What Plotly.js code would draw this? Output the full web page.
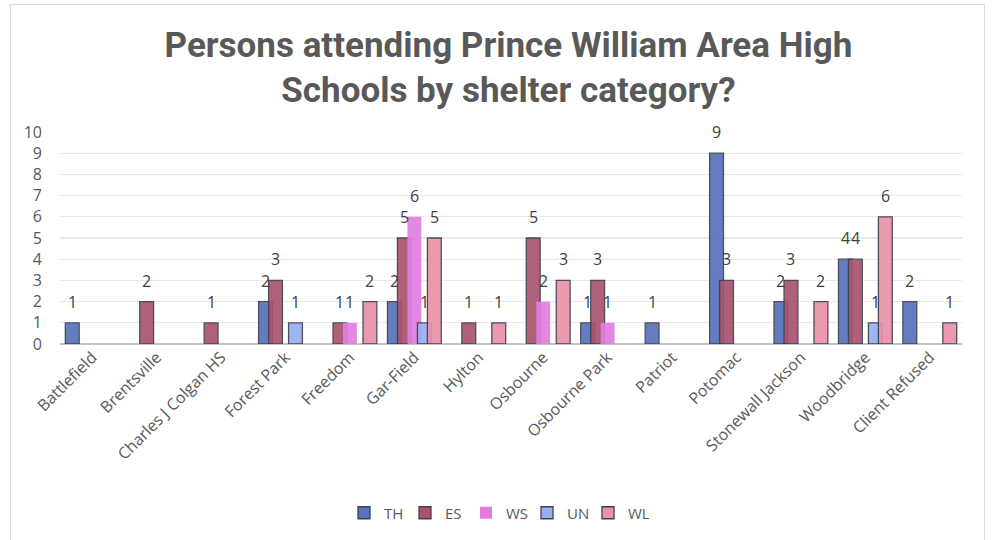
<!DOCTYPE html>
<html>
<head>
<meta charset="utf-8">
<script src="https://cdn.plot.ly/plotly-3.0.1.min.js"></script>
<style>
html,body{margin:0;padding:0;background:#fff;}
#frame{position:absolute;left:10px;top:4px;width:975px;height:560px;border:1.5px solid #D9D9D9;box-sizing:border-box;}
#chart{position:absolute;left:0;top:0;width:993px;height:540px;}
</style>
</head>
<body>
<div id="frame"></div>
<div id="chart"></div>
<script>
const categories = ["Battlefield","Brentsville","Charles J Colgan HS","Forest Park","Freedom","Gar-Field","Hylton","Osbourne","Osbourne Park","Patriot","Potomac","Stonewall Jackson","Woodbridge","Client Refused"];
const TH = [1,null,null,2,null,2,null,null,1,1,9,2,4,2];
const ES = [null,2,1,3,1,5,1,5,3,null,3,3,4,null];
const WS = [null,null,null,null,1,6,null,2,1,null,null,null,null,null];
const UN = [null,null,null,1,null,1,null,null,null,null,null,null,1,null];
const WL = [null,null,null,null,2,5,1,3,null,null,null,2,6,1];
const seriesNames = ["TH","ES","WS","UN","WL"];
const seriesData = [TH,ES,WS,UN,WL];
const colors = ["#5673BC","#A9536F","#E07EE0","#95AFF0","#E991A9"];
const outline = ["#404050","#404050","rgba(0,0,0,0)","#404050","#404050"];
const slot = 0.155, bw = 0.215;
const plotL = 60, plotR = 31, W = 993;
const catPx = (W - plotL - plotR) / categories.length;

const traces = seriesNames.map((n,i)=>({
  type:'bar', name:n, x:categories, y:seriesData[i],
  offset:(i-2)*slot - bw/2, width:bw,
  marker:{color:colors[i], opacity:0.92, line:{color:outline[i], width:i===2?0:1.3}},
  hoverinfo:'x+y+name'
}));

const annotations = [];
seriesData.forEach((arr,i)=>{
  arr.forEach((v,j)=>{
    if (v == null) return;
    annotations.push({x:categories[j], y:v, xref:'x', yref:'y', text:String(v), showarrow:false,
      xshift:(i-2)*slot*catPx, yshift:8, yanchor:'bottom', xanchor:'center',
      font:{family:'Open Sans', size:16, color:'#404040'}});
  });
});

const layout = {
  width:993, height:540,
  paper_bgcolor:'rgba(0,0,0,0)', plot_bgcolor:'rgba(0,0,0,0)',
  barmode:'overlay',
  margin:{l:plotL, r:plotR, t:132, b:196, autoexpand:false},
  title:{text:'Persons attending Prince William Area High<br>Schools by shelter category?',
    x:0.512, xanchor:'center', xref:'container', y:0.895, yanchor:'top', yref:'container',
    font:{family:'Roboto', size:35, color:'#595959', weight:'bold'}},
  xaxis:{type:'category', tickangle:-45, showgrid:false, zeroline:false, showline:false,
    tickfont:{family:'Open Sans', size:16, color:'#595959'}, ticks:'', automargin:false},
  yaxis:{range:[0,10], dtick:1, tick0:0, showgrid:true, gridcolor:'#E9E9E9', gridwidth:1.2,
    zeroline:true, zerolinecolor:'#C4C4C4', zerolinewidth:2.5, showline:false,
    ticks:'', ticklabelstandoff:17,
    tickfont:{family:'Open Sans', size:16, color:'#595959'}, automargin:false},
  legend:{orientation:'h', x:0.5, xanchor:'center', xref:'container', y:0.05, yanchor:'middle', yref:'container',
    font:{family:'Open Sans', size:15, color:'#595959'}, traceorder:'normal',
    itemwidth:30, entrywidth:16, entrywidthmode:'pixels'},
  annotations:annotations,
  showlegend:true
};
Plotly.newPlot('chart', traces, layout, {displayModeBar:false, staticPlot:true});
</script>
</body>
</html>
